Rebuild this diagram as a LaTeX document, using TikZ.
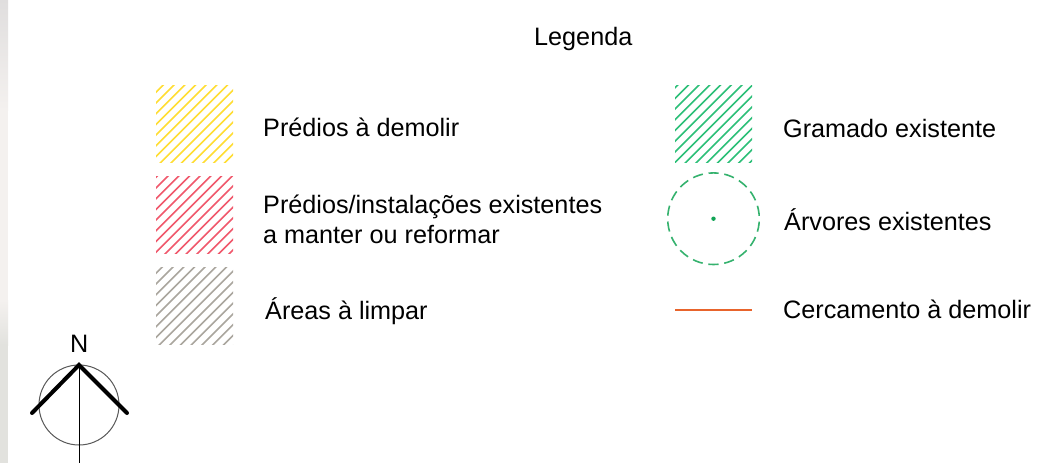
\documentclass[tikz,border=0pt]{standalone}
\usepackage{fontspec}
\setmainfont{Liberation Sans}
\definecolor{hyellow}{HTML}{FFDD33}
\definecolor{hred}{HTML}{F0586C}
\definecolor{hgrey}{HTML}{AAA69E}
\definecolor{hgreen}{HTML}{2CBF78}
\definecolor{treegreen}{HTML}{11A455}
\definecolor{fenceorange}{HTML}{E8642C}
\definecolor{stripa}{HTML}{E0DEDE}
\definecolor{stripb}{HTML}{F4F1EF}
\definecolor{stripc}{HTML}{E2E2DE}
\newcommand{\hatchbox}[4]{%
  \begin{scope}
    \clip (#1,#2) rectangle ++(77,77);
    \foreach \k in {0,...,14}{
      \draw[#3,line width=1.6] ({#1-10},{#2+#4+10.7*\k+10}) -- ++(120,-120);
    }
  \end{scope}}
\tikzset{lab/.style={font=\fontsize{25.2}{30}\selectfont,text=black,inner sep=0,anchor=base west,align=left}}
\begin{document}
\begin{tikzpicture}[x=1pt,y=-1pt]
\useasboundingbox (0,0) rectangle (1038,463);
\fill[white] (0,0) rectangle (1038,463);
\shade[top color=stripa,bottom color=stripb] (0,0) rectangle (8,110);
\fill[stripb] (0,110) rectangle (8,300);
\shade[top color=stripb,bottom color=stripc] (0,300) rectangle (8,345);
\fill[stripc] (0,345) rectangle (8,463);
\node[lab] (title) at (534,45) {Legenda};
\hatchbox{156}{85}{hyellow}{7.3}
\hatchbox{156}{176.5}{hred}{0.8}
\hatchbox{156}{267}{hgrey}{6.3}
\hatchbox{675}{85}{hgreen}{2.7}
\node[lab] (a) at (263,136) {Prédios à demolir};
\node[lab] (b1) at (263,213) {Prédios/instalações existentes};
\node[lab] (b2) at (263,243) {a manter ou reformar};
\node[lab] (c) at (265,319) {Áreas à limpar};
\node[lab] (d) at (783,137) {Gramado existente};
\node[lab] (e) at (784,230) {Árvores existentes};
\node[lab] (f) at (783,318) {Cercamento à demolir};
\coordinate (treec) at (713.5,218.7);
\draw[treegreen!85,line width=1.6,dash pattern=on 10.2 off 5.79,dash phase=5.1] (713.5,172.9) arc[start angle=-90,end angle=270,radius=45.8];
\fill[treegreen] (treec) circle (2.2);
\coordinate (fa) at (675,310);
\coordinate (fb) at (752,310);
\draw[fenceorange,line width=1.6] (fa) -- (fb);
\node[lab] (n) at (70,352) {N};
\coordinate (top) at (79,365);
\coordinate (bot) at (79,463);
\coordinate (l) at (32,413);
\coordinate (r) at (127,413);
\draw[black!65,line width=1] (79,405) circle (40);
\draw[black,line width=1] (top) -- (bot);
\draw[black,line width=4,line cap=round,line join=miter] (l) -- (top) -- (r);
\end{tikzpicture}
\end{document}
